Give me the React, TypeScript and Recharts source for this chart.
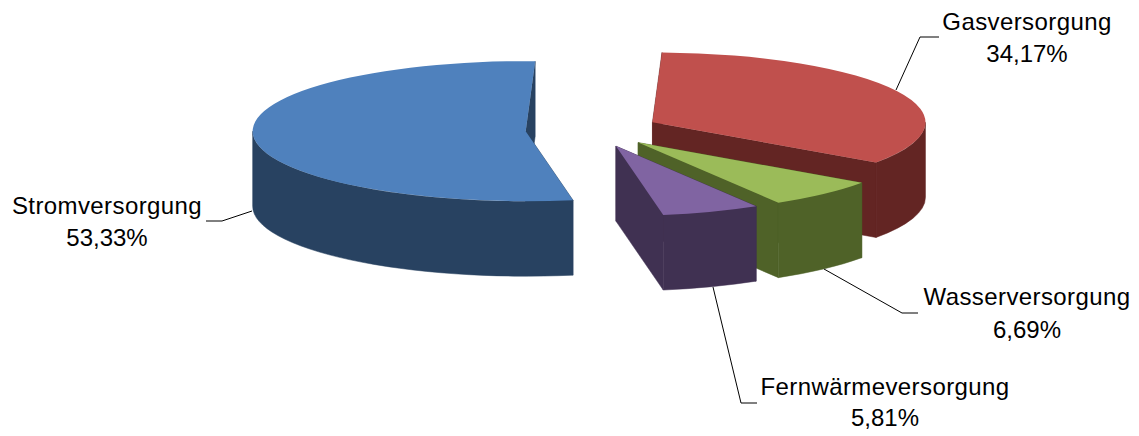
import React from "react";
import { PieChart, Pie, Cell } from "recharts";

const categories = ["Gasversorgung", "Wasserversorgung", "Fernwärmeversorgung", "Stromversorgung"];
const shares = [34.17, 6.69, 5.81, 53.33];
const topColors = ["#C0504D", "#9BBB59", "#8064A2", "#4F81BD"];
const wallColors = ["#632523", "#4F6228", "#403152", "#284261"];

const WIDTH = 1139;
const HEIGHT = 436;
const CENTER_X = 592.5;
const CENTER_Y = 130;
const RADIUS_X = 273;
const RADIUS_Y = 70;
const DEPTH = 75;
const EXPLODE = 67;
const FONT = "'Liberation Sans', Arial, sans-serif";

const labelCenters = [
  { x: 1027, y1: 30, y2: 62 },
  { x: 1027, y1: 305, y2: 338 },
  { x: 885, y1: 395, y2: 426 },
  { x: 107, y1: 214, y2: 246 },
];
const leaderLines = [
  "M896 90L920 37L939 37",
  "M824 269L902 313L918 313",
  "M713 287L741 403L757 403",
  "M252 211L222 221L206 221",
];

const rad = (d: number) => (d * Math.PI) / 180;

function Slice3D(props: any) {
  const { startAngle, endAngle, index, fill } = props;
  const s = 90 - startAngle;
  const e = 90 - endAngle;
  const mid = (s + e) / 2;
  const ax = CENTER_X + EXPLODE * Math.sin(rad(mid));
  const ay = CENTER_Y - EXPLODE * (RADIUS_Y / RADIUS_X) * Math.cos(rad(mid));
  const pt = (a: number) => [ax + RADIUS_X * Math.sin(rad(a)), ay - RADIUS_Y * Math.cos(rad(a))];
  const [sx, sy] = pt(s);
  const [ex, ey] = pt(e);
  const large = e - s > 180 ? 1 : 0;
  const wall = wallColors[index];
  const face = (x: number, y: number) =>
    `M${ax} ${ay}L${x} ${y}L${x} ${y + DEPTH}L${ax} ${ay + DEPTH}Z`;
  const fs = Math.max(s, 90);
  const fe = Math.min(e, 270);
  let wallPath = "";
  if (fe > fs) {
    const [x1, y1] = pt(fs);
    const [x2, y2] = pt(fe);
    wallPath = `M${x1} ${y1}A${RADIUS_X} ${RADIUS_Y} 0 0 1 ${x2} ${y2}L${x2} ${y2 + DEPTH}A${RADIUS_X} ${RADIUS_Y} 0 0 0 ${x1} ${y1 + DEPTH}Z`;
  }
  return (
    <g>
      <path d={face(sx, sy)} fill={wall} stroke={wall} strokeWidth={0.5} />
      <path d={face(ex, ey)} fill={wall} stroke={wall} strokeWidth={0.5} />
      {wallPath && <path d={wallPath} fill={wall} stroke={wall} strokeWidth={0.5} />}
      <path
        d={`M${ax} ${ay}L${sx} ${sy}A${RADIUS_X} ${RADIUS_Y} 0 ${large} 1 ${ex} ${ey}Z`}
        fill={fill}
      />
    </g>
  );
}

function SliceLabel(props: any) {
  const { index } = props;
  const c = labelCenters[index];
  return (
    <g>
      <path d={leaderLines[index]} fill="none" stroke="#000" strokeWidth={1} />
      <text x={c.x} y={c.y1} textAnchor="middle" fontFamily={FONT} fontSize={24} letterSpacing={0.4} fill="#000">
        {categories[index]}
      </text>
      <text x={c.x} y={c.y2} textAnchor="middle" fontFamily={FONT} fontSize={24} fill="#000">
        {shares[index].toFixed(2).replace(".", ",") + "%"}
      </text>
    </g>
  );
}

const rows = categories.map((name, i) => ({ name, value: shares[i] }));

export default function App() {
  return (
    <div style={{ position: "absolute", left: 0, top: 0, width: WIDTH, height: HEIGHT, background: "#fff" }}>
      <PieChart width={WIDTH} height={HEIGHT} margin={{ top: 0, right: 0, bottom: 0, left: 0 }}>
        <Pie
          data={rows}
          dataKey="value"
          nameKey="name"
          cx={CENTER_X}
          cy={CENTER_Y}
          innerRadius={0}
          outerRadius={RADIUS_X}
          startAngle={88}
          endAngle={-272}
          stroke="none"
          isAnimationActive={false}
          shape={Slice3D}
          label={SliceLabel}
          labelLine={false}
        >
          {rows.map((r, i) => (
            <Cell key={r.name} fill={topColors[i]} />
          ))}
        </Pie>
      </PieChart>
    </div>
  );
}
